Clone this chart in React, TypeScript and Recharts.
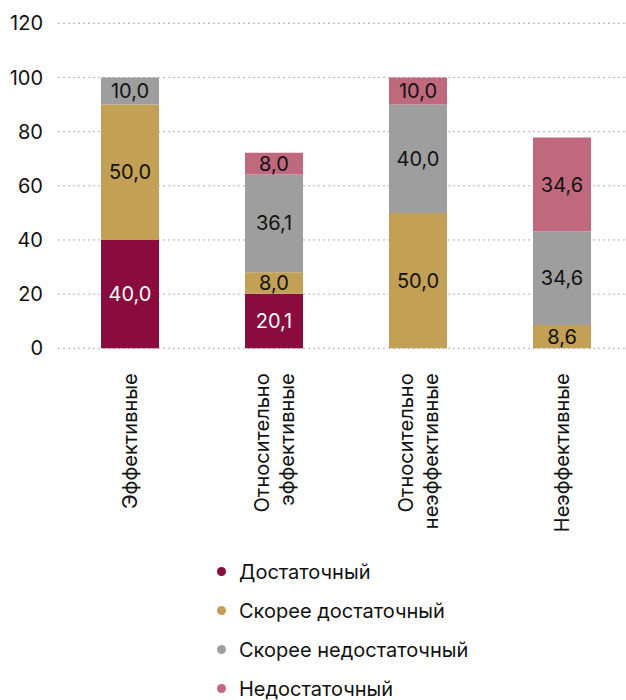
import React from "react";
import { BarChart, Bar, XAxis, YAxis, CartesianGrid, Legend, LabelList } from "recharts";

const categories = [
  "Эффективные",
  "Относительно эффективные",
  "Относительно неэффективные",
  "Неэффективные",
];
const dostatochny = [40.0, 20.1, null, null];
const skoreeDostatochny = [50.0, 8.0, 50.0, 8.6];
const skoreeNedostatochny = [10.0, 36.1, 40.0, 34.6];
const nedostatochny = [null, 8.0, 10.0, 34.6];
const yTicks = [0, 20, 40, 60, 80, 100, 120];

const seriesNames = ["Достаточный", "Скорее достаточный", "Скорее недостаточный", "Недостаточный"];
const seriesKeys = ["d", "sd", "sn", "n"];
const seriesColors = ["#8A0B3D", "#C2A055", "#9E9E9E", "#C0687E"];
const labelColors = ["#ffffff", "#111111", "#111111", "#111111"];

const data = categories.map((c, i) => ({
  name: c,
  d: dostatochny[i],
  sd: skoreeDostatochny[i],
  sn: skoreeNedostatochny[i],
  n: nedostatochny[i],
}));

const FONT = "Inter, 'Liberation Sans', Arial, sans-serif";
const FS = 20;

const fmt = (v: any) => (v == null ? "" : Number(v).toFixed(1).replace(".", ","));

const CategoryTick = (props: any) => {
  const { x, y, payload } = props;
  const lines: string[] = String(payload.value).split(" ");
  const n = lines.length;
  const spacing = 25;
  return (
    <g transform={`translate(${x},${y + 17})`}>
      <text transform="rotate(-90)" textAnchor="end" fontSize={FS} fontFamily={FONT} fill="#111">
        {lines.map((l, i) => (
          <tspan key={i} x={0} y={7 + (i - (n - 1) / 2) * spacing}>
            {l}
          </tspan>
        ))}
      </text>
    </g>
  );
};

const renderLegend = () => (
  <div style={{ fontFamily: FONT, fontSize: FS, color: "#111" }}>
    {seriesNames.map((s, i) => (
      <div key={s} style={{ height: 39, display: "flex", alignItems: "center" }}>
        <span
          style={{
            display: "inline-block",
            width: 9,
            height: 9,
            borderRadius: "50%",
            background: seriesColors[i],
            marginRight: 13,
          }}
        />
        <span>{s}</span>
      </div>
    ))}
  </div>
);

export default function App() {
  return (
    <div style={{ position: "absolute", left: 0, top: 0, width: 626, height: 700, overflow: "hidden", background: "#fff" }}>
      <BarChart
        width={634}
        height={700}
        data={data}
        margin={{ top: 23.3, right: 0, bottom: 151.7, left: 0 }}
        barSize={58}
        style={{ fontFamily: FONT }}
      >
        <CartesianGrid vertical={false} stroke="#b0b0b0" strokeDasharray="2 3" />
        <XAxis
          dataKey="name"
          axisLine={false}
          tickLine={false}
          height={200}
          interval={0}
          tick={<CategoryTick />}
        />
        <YAxis
          width={58}
          domain={[0, 120]}
          ticks={yTicks}
          axisLine={false}
          tickLine={false}
          tickMargin={9}
          tick={{ fontSize: FS, fill: "#111", fontFamily: FONT }}
        />
        {seriesKeys.map((k, i) => (
          <Bar key={k} dataKey={k} name={seriesNames[i]} stackId="a" fill={seriesColors[i]} isAnimationActive={false}>
            <LabelList
              dataKey={k}
              position="center"
              formatter={fmt}
              fill={labelColors[i]}
              fontSize={FS}
              fontFamily={FONT}
            />
          </Bar>
        ))}
        <Legend
          layout="vertical"
          align="center"
          verticalAlign="middle"
          content={renderLegend}
          wrapperStyle={{ left: 217, top: 552, width: 320, height: 160 }}
        />
      </BarChart>
    </div>
  );
}
